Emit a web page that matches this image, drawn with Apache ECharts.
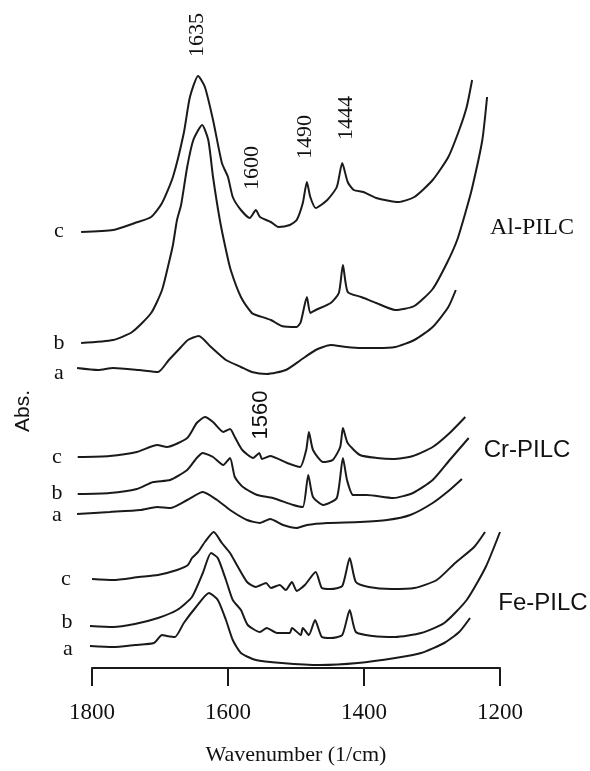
<!DOCTYPE html>
<html>
<head>
<meta charset="utf-8">
<script src="https://cdn.jsdelivr.net/npm/echarts@6/dist/echarts.min.js"></script>
<style>
  html, body { margin: 0; padding: 0; background: #fff; }
  #chart { width: 590px; height: 771px; }
</style>
</head>
<body>
<div id="chart"></div>
<script>
// wavenumber (1/cm), absorbance (offset, a.u.)
var alC = [[1816,4.43],[1769,4.45],[1737,4.52],[1713,4.58],[1697,4.72],[1681,4.98],[1665,5.42],[1656,5.78],[1644,5.99],[1634,5.88],[1622,5.55],[1609,5.12],[1600,4.98],[1593,4.78],[1581,4.65],[1568,4.57],[1559,4.65],[1553,4.58],[1537,4.53],[1526,4.48],[1509,4.50],[1499,4.55],[1490,4.72],[1484,4.93],[1479,4.78],[1471,4.67],[1454,4.75],[1440,4.88],[1432,5.12],[1424,4.93],[1415,4.85],[1401,4.83],[1382,4.77],[1349,4.73],[1326,4.78],[1299,4.95],[1276,5.18],[1260,5.45],[1249,5.68],[1241,5.95]];
var alB = [[1816,3.32],[1769,3.35],[1741,3.43],[1713,3.62],[1697,3.85],[1687,4.12],[1681,4.30],[1675,4.55],[1669,4.70],[1660,5.08],[1651,5.35],[1638,5.50],[1629,5.35],[1622,4.98],[1612,4.55],[1603,4.25],[1596,4.05],[1581,3.78],[1565,3.62],[1559,3.60],[1537,3.55],[1521,3.49],[1499,3.48],[1493,3.53],[1484,3.78],[1479,3.62],[1471,3.65],[1449,3.72],[1437,3.82],[1431,4.10],[1424,3.83],[1404,3.78],[1382,3.72],[1354,3.65],[1326,3.69],[1299,3.86],[1278,4.12],[1263,4.35],[1251,4.62],[1241,4.87],[1226,5.35],[1219,5.78]];
var alA = [[1822,3.07],[1791,3.05],[1769,3.07],[1731,3.05],[1703,3.03],[1687,3.15],[1669,3.28],[1659,3.35],[1643,3.39],[1625,3.28],[1603,3.15],[1581,3.08],[1565,3.03],[1543,3.01],[1515,3.05],[1493,3.15],[1471,3.25],[1449,3.30],[1426,3.28],[1404,3.27],[1382,3.27],[1354,3.28],[1326,3.35],[1299,3.48],[1276,3.68],[1265,3.85]];

var crC = [[1821,2.18],[1774,2.19],[1734,2.23],[1704,2.30],[1690,2.28],[1660,2.37],[1646,2.52],[1634,2.58],[1622,2.53],[1607,2.43],[1597,2.46],[1590,2.38],[1579,2.25],[1563,2.17],[1554,2.22],[1550,2.16],[1538,2.19],[1513,2.12],[1494,2.08],[1485,2.25],[1481,2.43],[1475,2.25],[1460,2.13],[1446,2.15],[1435,2.28],[1431,2.47],[1424,2.32],[1406,2.20],[1381,2.17],[1357,2.16],[1328,2.19],[1299,2.28],[1274,2.42],[1251,2.58]];
var crB = [[1821,1.81],[1774,1.82],[1734,1.86],[1710,1.93],[1685,1.95],[1660,2.05],[1646,2.17],[1637,2.22],[1622,2.18],[1607,2.10],[1597,2.17],[1590,1.98],[1578,1.88],[1557,1.80],[1534,1.77],[1504,1.70],[1490,1.68],[1482,2.00],[1475,1.78],[1460,1.70],[1440,1.77],[1431,2.17],[1425,1.95],[1416,1.80],[1396,1.80],[1357,1.77],[1328,1.82],[1299,1.95],[1274,2.15],[1246,2.37]];
var crA = [[1822,1.61],[1774,1.63],[1729,1.65],[1704,1.68],[1685,1.67],[1660,1.75],[1637,1.83],[1616,1.75],[1597,1.65],[1572,1.55],[1553,1.52],[1538,1.56],[1519,1.50],[1499,1.47],[1484,1.50],[1454,1.52],[1406,1.53],[1366,1.55],[1332,1.60],[1299,1.72],[1274,1.85],[1256,1.96]];

var feC = [[1800,0.96],[1769,0.95],[1731,0.98],[1703,1.00],[1675,1.05],[1659,1.10],[1653,1.17],[1644,1.23],[1634,1.33],[1621,1.43],[1609,1.32],[1597,1.22],[1587,1.10],[1572,0.93],[1559,0.88],[1544,0.92],[1537,0.87],[1524,0.90],[1515,0.85],[1506,0.93],[1499,0.84],[1487,0.90],[1471,1.03],[1462,0.87],[1449,0.86],[1432,0.89],[1421,1.17],[1412,0.93],[1393,0.88],[1360,0.86],[1326,0.87],[1293,0.95],[1266,1.12],[1238,1.28],[1222,1.43]];
var feB = [[1803,0.49],[1769,0.48],[1737,0.51],[1703,0.57],[1675,0.65],[1653,0.78],[1637,1.02],[1625,1.22],[1615,1.17],[1603,0.95],[1593,0.75],[1581,0.65],[1571,0.50],[1553,0.43],[1543,0.47],[1528,0.42],[1509,0.42],[1506,0.47],[1493,0.40],[1490,0.47],[1481,0.40],[1472,0.55],[1462,0.38],[1449,0.37],[1432,0.40],[1421,0.65],[1412,0.43],[1387,0.39],[1354,0.38],[1316,0.42],[1282,0.52],[1249,0.75],[1221,1.08],[1200,1.43]];
var feA = [[1803,0.29],[1769,0.28],[1737,0.30],[1709,0.32],[1697,0.40],[1690,0.39],[1678,0.38],[1665,0.52],[1647,0.68],[1628,0.82],[1615,0.75],[1603,0.55],[1593,0.35],[1581,0.22],[1559,0.15],[1521,0.12],[1465,0.10],[1409,0.12],[1354,0.17],[1316,0.22],[1282,0.32],[1260,0.43],[1244,0.57]];

var xTicks = [1800, 1600, 1400, 1200];

var serif = '"Liberation Serif", "DejaVu Serif", serif';
var sans = '"Liberation Sans", Arial, sans-serif';

// spectra run a little past the drawn axis, so they sit on a second, wider
// hidden axis with the same px-per-wavenumber scale (0.68 px per 1/cm)
function spectrum(name, data) {
    return {
        name: name,
        type: 'line',
        xAxisIndex: 1,
        yAxisIndex: 1,
        data: data,
        showSymbol: false,
        smooth: 0.2,
        lineStyle: { color: '#1a1a1a', width: 2 },
        animation: false
    };
}

function txt(x, y, s, font, size, rot) {
    return {
        type: 'text',
        x: x,
        y: y,
        rotation: rot || 0,
        style: {
            text: s,
            font: size + 'px ' + font,
            fill: '#111',
            textAlign: 'center',
            textVerticalAlign: 'middle'
        }
    };
}

var chart = echarts.init(document.getElementById('chart'));
var option = {
    backgroundColor: '#fff',
    animation: false,
    grid: [
        { left: 92, right: 90, top: 50, bottom: 96 },
        { left: 71.6, right: 83.2, top: 50, bottom: 96 }
    ],
    xAxis: [{
        type: 'value',
        gridIndex: 0,
        inverse: true,
        min: 1200,
        max: 1800,
        interval: 200,
        name: 'Wavenumber (1/cm)',
        nameLocation: 'middle',
        nameGap: 76,
        nameTextStyle: { fontFamily: serif, fontSize: 22, color: '#111' },
        axisLine: { lineStyle: { color: '#1a1a1a', width: 2 } },
        axisTick: { show: true, length: 18, lineStyle: { color: '#1a1a1a', width: 2 } },
        axisLabel: {
            margin: 33,
            fontFamily: serif,
            fontSize: 23,
            color: '#111',
            formatter: function (v) { return xTicks.indexOf(v) >= 0 ? String(v) : ''; }
        },
        splitLine: { show: false }
    }, {
        type: 'value',
        gridIndex: 1,
        inverse: true,
        min: 1190,
        max: 1830,
        show: false
    }],
    yAxis: [
        { type: 'value', gridIndex: 0, min: 0, max: 6.25, show: false },
        { type: 'value', gridIndex: 1, min: 0, max: 6.25, show: false }
    ],
    series: [
        spectrum('Al-PILC c', alC),
        spectrum('Al-PILC b', alB),
        spectrum('Al-PILC a', alA),
        spectrum('Cr-PILC c', crC),
        spectrum('Cr-PILC b', crB),
        spectrum('Cr-PILC a', crA),
        spectrum('Fe-PILC c', feC),
        spectrum('Fe-PILC b', feB),
        spectrum('Fe-PILC a', feA)
    ],
    graphic: [
        // curve letters
        txt(59, 231, 'c', serif, 22), txt(59, 343, 'b', serif, 22), txt(59, 373, 'a', serif, 22),
        txt(57, 457, 'c', serif, 22), txt(57, 493, 'b', serif, 22), txt(57, 515, 'a', serif, 22),
        txt(66, 579, 'c', serif, 22), txt(67, 622, 'b', serif, 22), txt(68, 649, 'a', serif, 22),
        // sample names
        txt(532, 228, 'Al-PILC', serif, 24),
        txt(527, 450, 'Cr-PILC', sans, 24),
        txt(543, 603, 'Fe-PILC', sans, 24),
        // y title
        txt(23, 411, 'Abs.', sans, 21, Math.PI / 2),
        // peak marks
        txt(197, 35, '1635', serif, 22, Math.PI / 2),
        txt(252, 168, '1600', serif, 22, Math.PI / 2),
        txt(305, 137, '1490', serif, 22, Math.PI / 2),
        txt(346, 118, '1444', serif, 22, Math.PI / 2),
        txt(261, 415, '1560', sans, 22, Math.PI / 2)
    ]
};
chart.setOption(option);
</script>
</body>
</html>
